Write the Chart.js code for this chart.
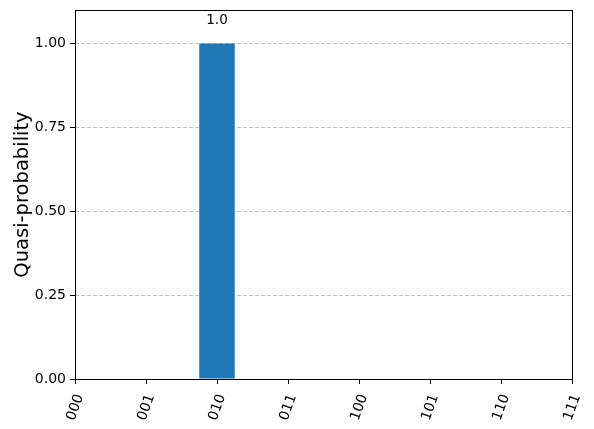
<!DOCTYPE html>
<html>
<head>
<meta charset="utf-8">
<script src="https://cdn.jsdelivr.net/npm/chart.js@4"></script>
<style>
  html, body { margin: 0; padding: 0; background: #fff; }
  #wrap { width: 594px; height: 429px; }
</style>
</head>
<body>
<div id="wrap"><canvas id="histChart" width="594" height="429"></canvas></div>
<script>
// Bitstring outcomes and their quasi-probabilities
const states = ["000", "001", "010", "011", "100", "101", "110", "111"];
const quasiProbs = [0, 0, 1.0, 0, 0, 0, 0, 0];
const yTicks = [0, 0.25, 0.5, 0.75, 1.0];

const FONT = "'DejaVu Sans', sans-serif";

// frame round the plot area (matplotlib-style spines)
const framePlugin = {
    id: "frame",
    afterDraw(chart) {
        const { ctx, chartArea: a } = chart;
        ctx.save();
        ctx.strokeStyle = "#000";
        ctx.lineWidth = 1;
        ctx.strokeRect(Math.round(a.left) + 0.5, Math.round(a.top) + 0.5,
            Math.round(a.right - a.left), Math.round(a.bottom - a.top));
        ctx.restore();
    }
};

// value labels above non-zero bars
const barLabelPlugin = {
    id: "barLabels",
    afterDatasetsDraw(chart) {
        const { ctx } = chart;
        const xs = chart.scales.x;
        const ys = chart.scales.y;
        ctx.save();
        ctx.fillStyle = "#000";
        ctx.font = "13.5px " + FONT;
        ctx.textAlign = "center";
        ctx.textBaseline = "alphabetic";
        quasiProbs.forEach((v, i) => {
            if (v > 0) {
                const x = xs.getPixelForValue(i);
                const y = ys.getPixelForValue(v * 1.05) - 3;
                ctx.fillText(v.toFixed(1), x, y);
            }
        });
        ctx.restore();
    }
};

new Chart(document.getElementById("histChart"), {
    type: "bar",
    data: {
        labels: states,
        datasets: [{
            data: quasiProbs,
            backgroundColor: "#1f77b4",
            borderWidth: 0,
            inflateAmount: 0,
            barPercentage: 0.5,
            categoryPercentage: 1.0
        }]
    },
    options: {
        responsive: false,
        animation: false,
        devicePixelRatio: 1,
        layout: { padding: { top: 10, right: 22, left: 0, bottom: 0 } },
        plugins: {
            legend: { display: false },
            tooltip: { enabled: false }
        },
        scales: {
            x: {
                type: "category",
                offset: false,
                grid: {
                    display: true,
                    drawOnChartArea: false,
                    drawTicks: true,
                    tickLength: 5,
                    color: "#000",
                    offset: false
                },
                border: { display: false },
                ticks: {
                    color: "#000",
                    font: { family: FONT, size: 14 },
                    minRotation: 70,
                    maxRotation: 70,
                    padding: 8,
                    labelOffset: 5,
                    autoSkip: false
                },
                afterFit(scale) {
                    scale.height = 50;
                    scale.paddingLeft = 0;
                    scale.paddingRight = 0;
                }
            },
            y: {
                min: 0,
                max: 1.1,
                afterBuildTicks(scale) {
                    scale.ticks = yTicks.map(v => ({ value: v }));
                },
                ticks: {
                    color: "#000",
                    font: { family: FONT, size: 14 },
                    padding: 4,
                    callback: v => Number(v).toFixed(2)
                },
                grid: {
                    color: "#b0b0b0",
                    lineWidth: 0.8,
                    borderDash: [4, 2],
                    drawTicks: true,
                    tickLength: 5,
                    tickColor: "#000",
                    tickBorderDash: [],
                    tickWidth: 1
                },
                border: { display: false, dash: [4, 2] },
                title: {
                    display: true,
                    text: "Quasi-probability",
                    color: "#000",
                    font: { family: FONT, size: 19.5 },
                    padding: { top: 11, bottom: 4 }
                },
                afterFit(scale) {
                    scale.width = 75;
                    scale.paddingTop = 0;
                    scale.paddingBottom = 0;
                }
            }
        }
    },
    plugins: [framePlugin, barLabelPlugin]
});
</script>
</body>
</html>
